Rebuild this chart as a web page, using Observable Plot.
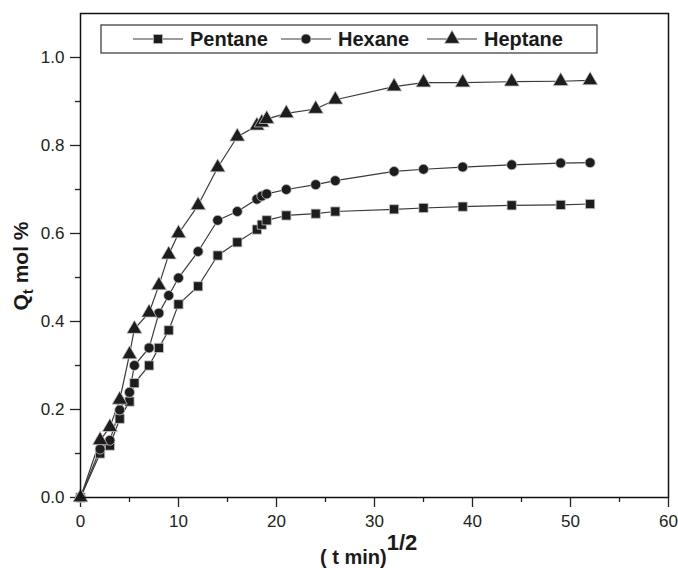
<!DOCTYPE html>
<html>
<head>
<meta charset="utf-8">
<script src="https://cdn.jsdelivr.net/npm/d3@7"></script>
<script src="https://cdn.jsdelivr.net/npm/@observablehq/plot@0.6"></script>
<style>
  body { margin: 0; background: #fff; }
  #chart svg { display: block; }
</style>
</head>
<body>
<div id="chart"></div>
<script>
// Square root of time, (t min)^1/2, shared by all three runs
const sqrtTime = [0, 2, 3, 4, 5, 5.5, 7, 8, 9, 10, 12, 14, 16, 18, 18.5, 19, 21, 24, 26, 32, 35, 39, 44, 49, 52];

// Uptake Q_t (mol %)
const pentane = [0, 0.100, 0.118, 0.179, 0.218, 0.260, 0.300, 0.340, 0.380, 0.439, 0.480, 0.550, 0.580, 0.609, 0.620, 0.630, 0.641, 0.645, 0.650, 0.655, 0.658, 0.661, 0.664, 0.665, 0.667];
const hexane  = [0, 0.110, 0.130, 0.199, 0.239, 0.300, 0.340, 0.419, 0.459, 0.499, 0.559, 0.630, 0.650, 0.678, 0.685, 0.690, 0.700, 0.711, 0.720, 0.741, 0.746, 0.751, 0.756, 0.760, 0.761];
const heptane = [0, 0.130, 0.160, 0.222, 0.325, 0.383, 0.420, 0.482, 0.552, 0.600, 0.664, 0.750, 0.820, 0.845, 0.852, 0.860, 0.873, 0.883, 0.904, 0.934, 0.943, 0.943, 0.945, 0.946, 0.948];

const seriesNames = ["Pentane", "Hexane", "Heptane"];
const seriesSymbols = ["square", "circle", "triangle"];

const xMajorTicks = [0, 10, 20, 30, 40, 50, 60];
const xMinorTicks = [5, 15, 25, 35, 45, 55];
const yMajorTicks = [0, 0.2, 0.4, 0.6, 0.8, 1.0];
const yMinorTicks = [0.1, 0.3, 0.5, 0.7, 0.9];

// Long-format table for the line and dot marks
const rows = [];
[pentane, hexane, heptane].forEach((vals, i) =>
  vals.forEach((q, j) => rows.push({series: seriesNames[i], t: sqrtTime[j], q}))
);

const markerSize = {Pentane: 5.2, Hexane: 5, Heptane: 5.6};
const markerFill = "#1e1c1d";
const markerHalo = "#c4c4c4";

const plot = Plot.plot({
  width: 678,
  height: 568,
  marginLeft: 80,
  marginRight: 10,
  marginTop: 13,
  marginBottom: 71,
  style: {
    fontFamily: "'Liberation Sans', Arial, sans-serif",
    fontSize: "17px",
    color: "#222",
    background: "#fff"
  },
  x: {domain: [0, 60]},
  y: {domain: [0, 1.1]},
  symbol: {domain: seriesNames, range: seriesSymbols},
  marks: [
    Plot.axisX({ticks: xMajorTicks, tickSize: 10, tickPadding: 7, label: null, strokeWidth: 1.3}),
    Plot.axisX({ticks: xMinorTicks, tickSize: 5, tickFormat: () => "", label: null, strokeWidth: 1.3}),
    Plot.axisY({ticks: yMajorTicks, tickSize: 10, tickPadding: 6, tickFormat: d3.format(".1f"), label: null, strokeWidth: 1.3}),
    Plot.axisY({ticks: yMinorTicks, tickSize: 5, tickFormat: () => "", label: null, strokeWidth: 1.3}),
    Plot.line(rows, {x: "t", y: "q", z: "series", stroke: "#3a3a3a", strokeWidth: 1.2}),
    ...seriesNames.map(name =>
      Plot.dot(rows.filter(d => d.series === name), {
        x: "t", y: "q", symbol: "series", r: markerSize[name],
        fill: markerFill, stroke: markerHalo, strokeWidth: 0.8
      })
    ),
    Plot.frame({stroke: "#111", strokeWidth: 1.5})
  ]
});

const svg = d3.select(plot);
const titleFont = "'Liberation Sans', Arial, sans-serif";

// x-axis title with superscript exponent
const xt = svg.append("text")
  .attr("x", 320).attr("y", 564)
  .attr("text-anchor", "start")
  .attr("font-family", titleFont).attr("font-weight", "bold")
  .attr("font-size", 20).attr("fill", "#1a1a1a");
xt.append("tspan").text("( t min)");
xt.append("tspan").attr("dy", -14).attr("font-size", 22).text("1/2");

// y-axis title with subscript
const yt = svg.append("text")
  .attr("transform", "translate(28,266) rotate(-90)")
  .attr("text-anchor", "middle")
  .attr("font-family", titleFont).attr("font-weight", "bold")
  .attr("font-size", 21).attr("fill", "#1a1a1a");
yt.append("tspan").text("Q");
yt.append("tspan").attr("dy", 5).attr("font-size", 15).text("t");
yt.append("tspan").attr("dy", -5).text(" mol %");

// Legend box inside the plot area
const legend = svg.append("g");
legend.append("rect")
  .attr("x", 101).attr("y", 25).attr("width", 496).attr("height", 28)
  .attr("fill", "#fff").attr("stroke", "#333").attr("stroke-width", 1.2);

const legendItems = [
  {name: "Pentane", symbol: d3.symbolSquare, x0: 133},
  {name: "Hexane", symbol: d3.symbolCircle, x0: 281},
  {name: "Heptane", symbol: d3.symbolTriangle, x0: 427}
];
legendItems.forEach(item => {
  const cy = 39;
  legend.append("line")
    .attr("x1", item.x0).attr("x2", item.x0 + 50)
    .attr("y1", cy).attr("y2", cy)
    .attr("stroke", "#3a3a3a").attr("stroke-width", 1.2);
  const r = markerSize[item.name];
  legend.append("path")
    .attr("transform", `translate(${item.x0 + 25},${cy})`)
    .attr("d", d3.symbol(item.symbol, Math.PI * r * r)())
    .attr("fill", markerFill).attr("stroke", markerHalo).attr("stroke-width", 0.8);
  legend.append("text")
    .attr("x", item.x0 + 57).attr("y", cy + 7)
    .attr("text-anchor", "start")
    .attr("font-family", titleFont).attr("font-weight", "bold")
    .attr("font-size", 20).attr("fill", "#1a1a1a")
    .text(item.name);
});

document.getElementById("chart").appendChild(plot);
</script>
</body>
</html>
